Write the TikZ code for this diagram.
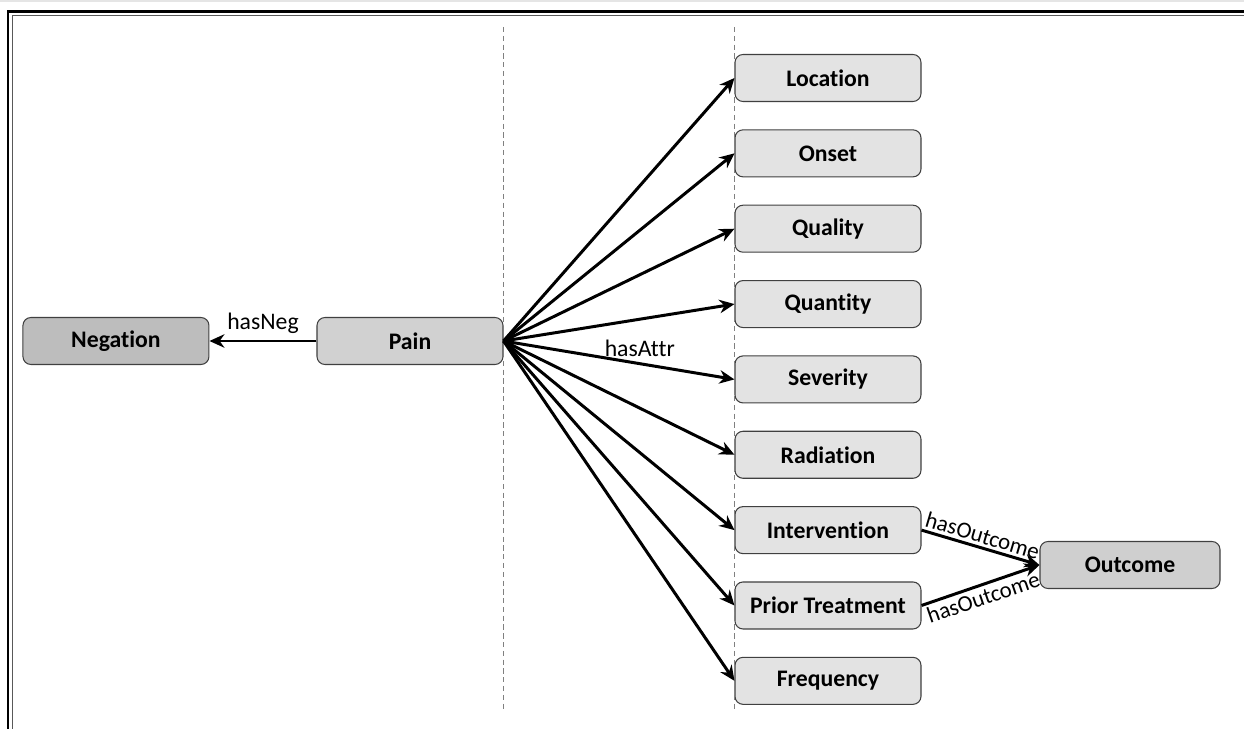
\documentclass[tikz,border=0pt]{standalone}
\usepackage{fontspec}
\setmainfont{Carlito}[Ligatures=CommonOff]
\usetikzlibrary{positioning,arrows.meta}

\begin{document}
\begin{tikzpicture}[node distance={5.46mm}, font=\fontsize{13.5}{16}\selectfont,
  box/.style = {draw=black!75, line width=0.6pt, rounded corners=1.6mm, minimum width=3.72cm, minimum height=0.94cm, font=\fontsize{13.5}{16}\selectfont\bfseries, fill=gray!22},
  painbox/.style = {box, fill=gray!36},
  negbox/.style = {box, fill=gray!52},
  outbox/.style = {box, fill=gray!38, minimum width=3.6cm},
  rel/.style = {line width=1.7pt, -{Stealth[length=3mm,width=2.7mm]}},
  outlabel/.style = {sloped, pos=0.49, inner sep=1.5pt, font=\fontsize{13}{15}\selectfont},
  guide/.style = {densely dashed, gray, line width=0.5pt}]
\useasboundingbox (-8.2,-7.76) rectangle (16.68,6.82);

% frame
\fill[gray!20] (-8.2,6.82) rectangle (16.68,6.77);
\draw[line width=0.05cm] (16.68,6.59) -- (-8.04,6.59) -- (-8.04,-7.76);
\draw[line width=0.02cm, gray!70!black] (16.68,6.51) -- (-7.95,6.51) -- (-7.95,-7.76);

\node[painbox] (pain) at (0,0) {Pain};
\node[negbox] (neg) [left=2.14cm of pain] {Negation};

\node[box] (loc) at (8.36,5.26) {Location};
\node[box] (onset) [below=of loc] {Onset};
\node[box] (qual) [below=of onset] {Quality};
\node[box] (quant) [below=of qual] {Quantity};
\node[box] (sev) [below=of quant] {Severity};
\node[box] (rad) [below=of sev] {Radiation};
\node[box] (intv) [below=of rad] {Intervention};
\node[box] (prior) [below=of intv] {Prior Treatment};
\node[box] (freq) [below=of prior] {Frequency};

\node[outbox] (outc) at (14.4,-4.48) {Outcome};

% guides
\coordinate (top) at (0,6.28);
\coordinate (bot) at (0,-7.38);
\draw[guide] (pain.east |- top) -- (pain.east |- bot);
\draw[guide] (loc.west |- top) -- (loc.west |- bot);

\draw[rel] (pain) -- node[above] {hasNeg} (neg);

\draw[rel] (pain.east) -- (loc.west);
\draw[rel] (pain.east) -- (onset.west);
\draw[rel] (pain.east) -- (qual.west);
\draw[rel] (pain.east) -- (quant.west);
\draw[rel] (pain.east) -- node[above, pos=0.59] {hasAttr} (sev.west);
\draw[rel] (pain.east) -- (rad.west);
\draw[rel] (pain.east) -- (intv.west);
\draw[rel] (pain.east) -- (prior.west);
\draw[rel] (pain.east) -- (freq.west);

\draw[rel] (intv.east) -- node[above, outlabel] {hasOutcome} (outc.west);
\draw[rel] (prior.east) -- node[below, outlabel] {hasOutcome} (outc.west);
\end{tikzpicture}
\end{document}
